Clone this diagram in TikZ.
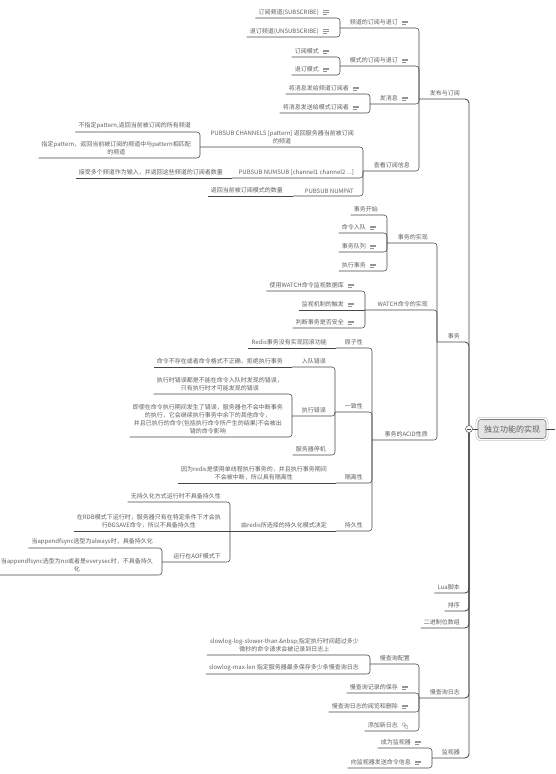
\documentclass[tikz,border=0pt]{standalone}
\usepackage{fontspec}
\setmainfont{Noto Sans CJK SC}
\definecolor{txt}{RGB}{95,95,95}
\definecolor{ln}{RGB}{70,70,70}
\tikzset{
  tp/.style={font=\fontsize{6}{8}\selectfont, text=txt, inner xsep=3pt, inner ysep=2.5pt, align=center, anchor=south east},
  cn/.style={draw=ln, line width=0.55pt, rounded corners=3pt},
  cn1/.style={draw=ln, line width=0.85pt, rounded corners=4pt},
  icn/.style={draw=gray!85, line width=0.45pt},
  noteic/.pic={\draw[icn] (-3,-1.6) -- (3,-1.6) (-3,0) -- (3,0) (-3,1.6) -- (0.8,1.6);},
  linkic/.pic={\draw[icn, rotate=-45, rounded corners=1pt] (-3.6,-1.3) rectangle (0.4,1.3) (-0.4,-1.3) rectangle (3.6,1.3);}
}
\begin{document}
\begin{tikzpicture}[x=1pt,y=-1pt]
\useasboundingbox (0,0) rectangle (555,774);
% root
\node[draw={rgb,255:red,125;green,125;blue,125}, fill={rgb,255:red,228;green,228;blue,228}, rounded corners=3pt, minimum width=68pt, minimum height=19pt, font=\fontsize{8}{10}\selectfont, text=txt, line width=0.6pt] (root) at (512,429) {独立功能的实现};
\draw[gray!45, rounded corners=4pt, line width=0.6pt] ([shift={(-1.8pt,-1.8pt)}]root.south west) rectangle ([shift={(1.8pt,1.8pt)}]root.north east);
\node[circle, draw=ln, fill=white, minimum size=7pt, inner sep=0pt, line width=0.5pt] (rj) at (469,429) {};
\draw[ln, line width=0.5pt] ([xshift=-2pt]rj.center) -- ([xshift=2pt]rj.center);
\coordinate (rout) at (555,429);
\draw[cn1] (rj) -- (root);
\draw[cn1] (root) -- (rout);

% level 1
\node[tp] (ps) at (463,99) {发布与订阅};   \coordinate (ps-b) at (419,99);
\node[tp] (tx) at (463,342) {事务};        \coordinate (tx-b) at (437,342);
\node[tp] (lua) at (463,593) {Lua脚本};
\node[tp] (sort) at (463,611) {排序};
\node[tp] (bits) at (463,628) {二进制位数组};
\node[tp] (sl) at (463,698) {慢查询日志};  \coordinate (sl-b) at (419,698);
\node[tp] (mon) at (463,758) {监视器};     \coordinate (mon-b) at (432,758);

\draw[cn1] (ps-b) -- (ps-b -| rj) -- (rj);
\draw[cn1] (tx-b) -- (tx-b -| rj) -- (rj);
\draw[cn1] (lua.south west) -- (lua.south west -| rj) -- (rj);
\draw[cn1] (sort.south west) -- (sort.south west -| rj) -- (rj);
\draw[cn1] (bits.south west) -- (bits.south west -| rj) -- (rj);
\draw[cn1] (sl-b) -- (sl-b -| rj) -- (rj);
\draw[cn1] (mon-b) -- (mon-b -| rj) -- (rj);

% ===== 发布与订阅 =====
\node[tp] (ch) at (401,28) {频道的订阅与退订};   \coordinate (ch-b) at (340,28);
\node[tp] (pt) at (401,66) {模式的订阅与退订};   \coordinate (pt-b) at (340,66);
\node[tp] (pub) at (401,104) {发消息};            \coordinate (pub-b) at (370,104);
\node[tp] (view) at (413,171) {查看订阅信息};     \coordinate (view-b) at (363,171);
\pic at ([xshift=4pt]ch.east) {noteic};
\pic at ([xshift=4pt]pt.east) {noteic};
\pic at ([xshift=4pt]pub.east) {noteic};
\draw[cn] (ch-b) -- (ch-b -| ps-b) -- (ps-b);
\draw[cn] (pt-b) -- (pt-b -| ps-b) -- (ps-b);
\draw[cn] (pub-b) -- (pub-b -| ps-b) -- (ps-b);
\draw[cn] (view-b) -- (view-b -| ps-b) -- (ps-b);

\node[tp] (sub) at (322,18) {订阅频道(SUBSCRIBE)};
\node[tp] (unsub) at (322,37) {退订频道(UNSUBSCRIBE)};
\pic at ([xshift=4pt]sub.east) {noteic};
\pic at ([xshift=4pt]unsub.east) {noteic};
\draw[cn] (sub.south west) -- (sub.south west -| ch-b) -- (ch-b);
\draw[cn] (unsub.south west) -- (unsub.south west -| ch-b) -- (ch-b);

\node[tp] (psub) at (322,57) {订阅模式};
\node[tp] (punsub) at (322,75) {退订模式};
\pic at ([xshift=4pt]psub.east) {noteic};
\pic at ([xshift=4pt]punsub.east) {noteic};
\draw[cn] (psub.south west) -- (psub.south west -| pt-b) -- (pt-b);
\draw[cn] (punsub.south west) -- (punsub.south west -| pt-b) -- (pt-b);

\node[tp] (pubc) at (352,94) {将消息发给频道订阅者};
\node[tp] (pubp) at (352,113) {将消息发送给模式订阅者};
\pic at ([xshift=4pt]pubc.east) {noteic};
\pic at ([xshift=4pt]pubp.east) {noteic};
\draw[cn] (pubc.south west) -- (pubc.south west -| pub-b) -- (pub-b);
\draw[cn] (pubp.south west) -- (pubp.south west -| pub-b) -- (pub-b);

\node[tp] (chs) at (357,147) {PUBSUB CHANNELS [pattern] 返回服务器当前被订阅\\的频道};
\coordinate (chs-b) at (200,147);
\node[tp] (nsub) at (357,178) {PUBSUB NUMSUB [channel1 channel2 ...]};
\coordinate (nsub-b) at (232,178);
\node[tp] (npat) at (357,196) {PUBSUB NUMPAT};
\coordinate (npat-b) at (293,196);
\draw[cn] (chs-b) -- (chs-b -| view-b) -- (view-b);
\draw[cn] (nsub-b) -- (nsub-b -| view-b) -- (view-b);
\draw[cn] (npat-b) -- (npat-b -| view-b) -- (view-b);

\node[tp] (ch1) at (194,132) {不指定pattern,返回当前被订阅的所有频道};
\node[tp] (ch2) at (194,158) {指定pattern，返回当前被订阅的频道中与pattern相匹配\\的频道};
\draw[cn] (ch1.south west) -- (ch1.south west -| chs-b) -- (chs-b);
\draw[cn] (ch2.south west) -- (ch2.south west -| chs-b) -- (chs-b);
\node[tp] (ns1) at (226,178) {接受多个频道作为输入，并返回这些频道的订阅者数量};
\draw[cn] (ns1.south west) -- (nsub-b);
\node[tp] (np1) at (286,196) {返回当前被订阅模式的数量};
\draw[cn] (np1.south west) -- (npat-b);

% ===== 事务 =====
\node[tp] (impl) at (431,243) {事务的实现};        \coordinate (impl-b) at (387,243);
\node[tp] (watch) at (431,310) {WATCH命令的实现};  \coordinate (watch-b) at (365,310);
\node[tp] (acid) at (431,440) {事务的ACID性质};    \coordinate (acid-b) at (372,440);
\draw[cn] (impl-b) -- (impl-b -| tx-b) -- (tx-b);
\draw[cn] (watch-b) -- (watch-b -| tx-b) -- (tx-b);
\draw[cn] (acid-b) -- (acid-b -| tx-b) -- (tx-b);

\node[tp] (t1) at (381,215) {事务开始};
\node[tp] (t2) at (369,233) {命令入队};
\node[tp] (t3) at (369,252) {事务队列};
\node[tp] (t4) at (369,271) {执行事务};
\pic at ([xshift=4pt]t2.east) {noteic};
\pic at ([xshift=4pt]t3.east) {noteic};
\pic at ([xshift=4pt]t4.east) {noteic};
\draw[cn] (t1.south west) -- (t1.south west -| impl-b) -- (impl-b);
\draw[cn] (t2.south west) -- (t2.south west -| impl-b) -- (impl-b);
\draw[cn] (t3.south west) -- (t3.south west -| impl-b) -- (impl-b);
\draw[cn] (t4.south west) -- (t4.south west -| impl-b) -- (impl-b);

\node[tp] (w1) at (347,291) {使用WATCH命令监视数据库};
\node[tp] (w2) at (347,310) {监视机制的触发};
\node[tp] (w3) at (347,328) {判断事务是否安全};
\pic at ([xshift=4pt]w1.east) {noteic};
\pic at ([xshift=4pt]w2.east) {noteic};
\pic at ([xshift=4pt]w3.east) {noteic};
\draw[cn] (w1.south west) -- (w1.south west -| watch-b) -- (watch-b);
\draw[cn] (w2.south west) -- (watch-b);
\draw[cn] (w3.south west) -- (w3.south west -| watch-b) -- (watch-b);

\node[tp] (atom) at (366,348) {原子性};  \coordinate (atom-b) at (336,348);
\node[tp] (cons) at (366,412) {一致性};  \coordinate (cons-b) at (335,412);
\node[tp] (iso) at (366,483) {隔离性};   \coordinate (iso-b) at (336,483);
\node[tp] (dur) at (366,531) {持久性};   \coordinate (dur-b) at (336,531);
\draw[cn] (atom-b) -- (atom-b -| acid-b) -- (acid-b);
\draw[cn] (cons-b) -- (cons-b -| acid-b) -- (acid-b);
\draw[cn] (iso-b) -- (iso-b -| acid-b) -- (acid-b);
\draw[cn] (dur-b) -- (dur-b -| acid-b) -- (acid-b);

\node[tp] (a1) at (330,348) {Redis事务没有实现回滚功能};
\draw[cn] (a1.south west) -- (atom-b);

\node[tp] (enq) at (329,367) {入队错误};  \coordinate (enq-b) at (292,367);
\node[tp] (exe) at (329,416) {执行错误};  \coordinate (exe-b) at (292,416);
\node[tp] (stop) at (329,455) {服务器停机};
\draw[cn] (enq-b) -- (enq-b -| cons-b) -- (cons-b);
\draw[cn] (exe-b) -- (exe-b -| cons-b) -- (cons-b);
\draw[cn] (stop.south west) -- (stop.south west -| cons-b) -- (cons-b);

\node[tp] (e1) at (286,367) {命令不存在或者命令格式不正确，拒绝执行事务};
\draw[cn] (e1.south west) -- (enq-b);
\node[tp] (x1) at (286,394) {执行时错误都是不能在命令入队时发现的错误，\\只有执行时才可能发现的错误};
\node[tp] (x2) at (286,437) {即使在命令执行期间发生了错误，服务器也不会中断事务\\的执行，它会继续执行事务中余下的其他命令，\\并且已执行的命令(包括执行命令所产生的结果)不会被出\\错的命令影响};
\draw[cn] (x1.south west) -- (x1.south west -| exe-b) -- (exe-b);
\draw[cn] (x2.south west) -- (x2.south west -| exe-b) -- (exe-b);

\node[tp] (i1) at (330,483) {因为redis是使用单线程执行事务的，并且执行事务期间\\不会被中断，所以具有隔离性};
\draw[cn] (i1.south west) -- (iso-b);

\node[tp] (mode) at (330,531) {由redis所选择的持久化模式决定};  \coordinate (mode-b) at (230,531);
\draw[cn] (mode-b) -- (dur-b);
\node[tp] (m1) at (224,502) {无持久化方式运行时不具备持久性};
\node[tp] (m2) at (224,531) {在RDB模式下运行时，服务器只有在特定条件下才会执\\行BGSAVE命令，所以不具备持久性};
\node[tp] (aof) at (224,562) {运行在AOF模式下};  \coordinate (aof-b) at (162,562);
\draw[cn] (m1.south west) -- (m1.south west -| mode-b) -- (mode-b);
\draw[cn] (m2.south west) -- (mode-b);
\draw[cn] (aof-b) -- (aof-b -| mode-b) -- (mode-b);
\node[tp] (f1) at (156,548) {当appendfsync选型为always时，具备持久化};
\node[tp] (f2) at (156,575) {当appendfsync选型为no或者是everysec时，不具备持久\\化};
\draw[cn] (f1.south west) -- (f1.south west -| aof-b) -- (aof-b);
\draw[cn] (f2.south west) -- (f2.south west -| aof-b) -- (aof-b);

% ===== 慢查询日志 =====
\node[tp] (cfg) at (413,664) {慢查询配置};  \coordinate (cfg-b) at (370,664);
\node[tp] (s2) at (401,693) {慢查询记录的保存};
\node[tp] (s3) at (401,712) {慢查询日志的阅览和删除};
\node[tp] (s4) at (401,731) {添加新日志};
\pic at ([xshift=4pt]s2.east) {noteic};
\pic at ([xshift=4pt]s3.east) {noteic};
\pic at ([xshift=4pt]s4.east) {linkic};
\draw[cn] (cfg-b) -- (cfg-b -| sl-b) -- (sl-b);
\draw[cn] (s2.south west) -- (s2.south west -| sl-b) -- (sl-b);
\draw[cn] (s3.south west) -- (s3.south west -| sl-b) -- (sl-b);
\draw[cn] (s4.south west) -- (s4.south west -| sl-b) -- (sl-b);

\node[tp] (c1) at (362,655) {slowlog-log-slower-than \&nbsp;指定执行时间超过多少\\微秒的命令请求会被记录到日志上};
\node[tp] (c2) at (362,674) {slowlog-max-len 指定服务器最多保存多少条慢查询日志};
\draw[cn] (c1.south west) -- (c1.south west -| cfg-b) -- (cfg-b);
\draw[cn] (c2.south west) -- (c2.south west -| cfg-b) -- (cfg-b);

% ===== 监视器 =====
\node[tp] (mo1) at (414,748) {成为监视器};
\node[tp] (mo2) at (414,768) {向监视器发送命令信息};
\pic at ([xshift=4pt]mo1.east) {noteic};
\pic at ([xshift=4pt]mo2.east) {noteic};
\draw[cn] (mo1.south west) -- (mo1.south west -| mon-b) -- (mon-b);
\draw[cn] (mo2.south west) -- (mo2.south west -| mon-b) -- (mon-b);
\end{tikzpicture}
\end{document}
